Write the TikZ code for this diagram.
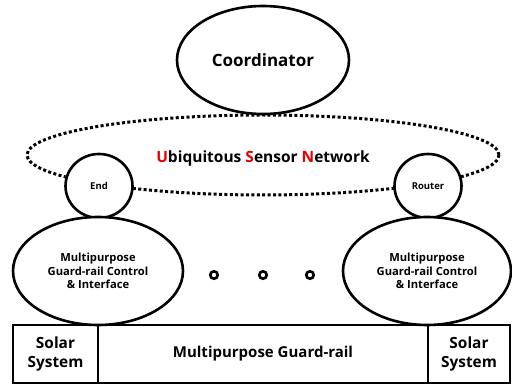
\documentclass[tikz,border=0pt]{standalone}
\usepackage{fontspec}
\setmainfont{Open Sans}
\usetikzlibrary{shapes.geometric}
\definecolor{usnred}{RGB}{230,0,0}
\begin{document}
\begin{tikzpicture}[x=1pt,y=-1pt,
  solid oval/.style={draw=black,line width=2.6pt,fill=white,ellipse,inner sep=0pt},
  dotted oval/.style={draw=black,line width=3pt,dash pattern=on 3pt off 2.4pt,ellipse,inner sep=0pt},
  smalldot/.style={draw=black,line width=2.6pt,circle,inner sep=0pt,minimum size=7.5pt,fill=white},
  boxcell/.style={draw=black,line width=2.6pt,rectangle,inner sep=0pt,align=center,font=\bfseries\fontsize{15.4}{19}\selectfont}]
\useasboundingbox (0,0) rectangle (512,385);
\fill[white] (0,0) rectangle (512,385);
% USN dotted ellipse
\node[dotted oval,minimum width=472pt,minimum height=80pt] (usn) at (263,155) {};
\node[font=\bfseries\fontsize{15.5}{17}\selectfont] (usntext) at (263,158) {\textcolor{usnred}{U}biquitous \textcolor{usnred}{S}ensor \textcolor{usnred}{N}etwork};
% coordinator
\node[solid oval,minimum width=172pt,minimum height=108pt,font=\bfseries\fontsize{17}{19}\selectfont] (coord) at (263,60) {Coordinator};
% end / router
\node[solid oval,minimum width=67pt,minimum height=64pt,font=\bfseries\fontsize{9.5}{10}\selectfont] (end) at (99,186) {End};
\node[solid oval,minimum width=67pt,minimum height=64pt,font=\bfseries\fontsize{9.5}{10}\selectfont] (router) at (428,186) {Router};
% control ellipses
\node[solid oval,minimum width=170pt,minimum height=108pt,align=center,font=\bfseries\fontsize{11.2}{13.5}\selectfont] (ctrlL) at (98,271) {Multipurpose\\Guard-rail Control\\\& Interface};
\node[solid oval,minimum width=168pt,minimum height=108pt,align=center,font=\bfseries\fontsize{11.2}{13.5}\selectfont] (ctrlR) at (427,271) {Multipurpose\\Guard-rail Control\\\& Interface};
% dots
\node[smalldot] (d1) at (214,275) {};
\node[smalldot] (d2) at (263,275) {};
\node[smalldot] (d3) at (310,275) {};
% bottom boxes
\node[boxcell,minimum width=85pt,minimum height=58pt] (solarL) at (55.5,354) {Solar\\System};
\node[boxcell,minimum width=330pt,minimum height=58pt] (rail) at (263,354) {\fontsize{15}{17}\selectfont Multipurpose Guard-rail};
\node[boxcell,minimum width=82pt,minimum height=58pt] (solarR) at (469,354) {Solar\\System};
\end{tikzpicture}
\end{document}
